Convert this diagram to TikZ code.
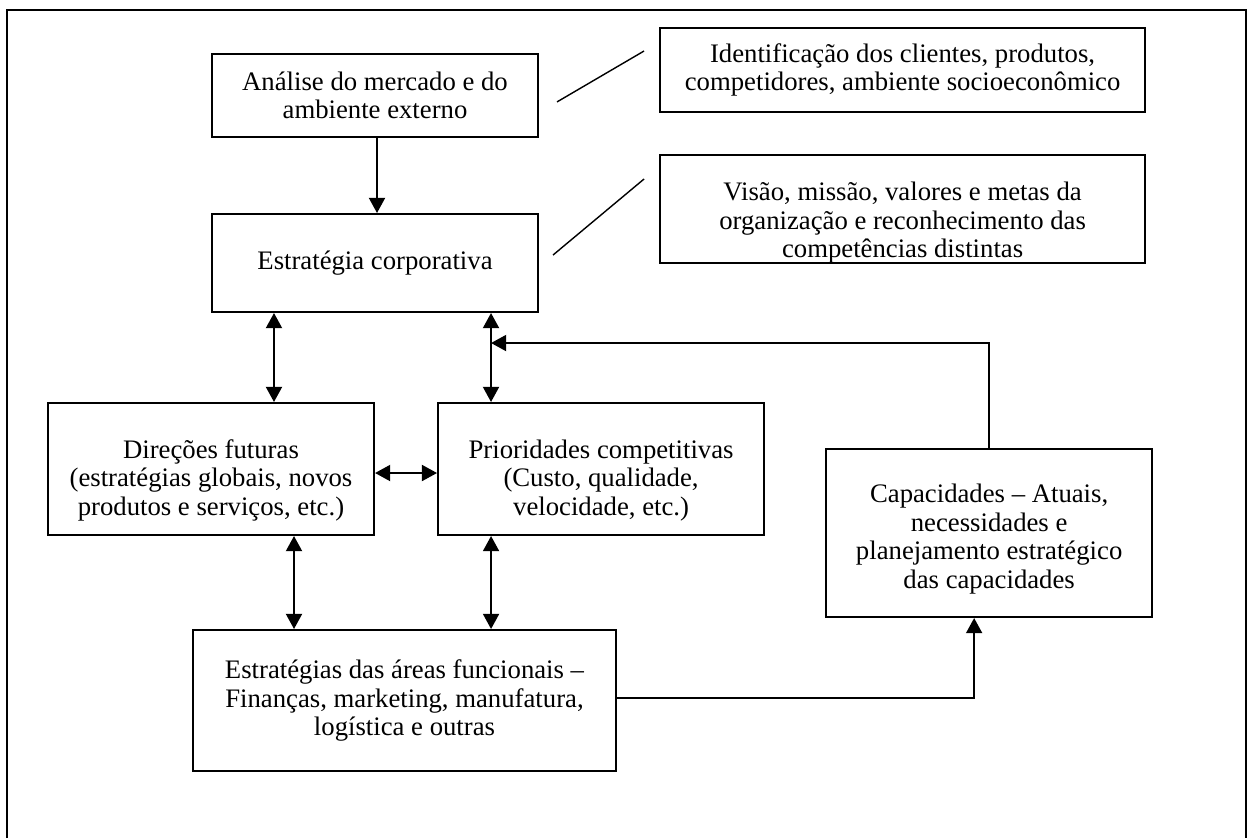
\documentclass[tikz,border=0pt]{standalone}
\usepackage{fontspec}
\setmainfont{Liberation Serif}
\usepackage{tikz}
\usetikzlibrary{positioning,arrows.meta,calc}
\newcommand{\desce}[1]{\rule{0pt}{#1}}

\begin{document}
\begin{tikzpicture}[
		x=0.025cm, y=-0.025cm,
		>={Triangle[length=0.38cm, width=0.4cm]},
		every text node part/.style={align=center},
		every node/.style={font=\fontsize{19}{20.3}\selectfont, inner sep=0pt},
		bloco/.style={draw, line width=1.4pt, minimum width=8.15cm},
		largo/.style={bloco, minimum width=12.125cm},
		liga/.style={line width=1.5pt},
		traco/.style={line width=1pt}
	]
	\useasboundingbox (0,0) rectangle (1253,838);
	\draw[line width=1.5pt] (7,838) -- (7,10) -- (1246,10) -- (1246,838);
	
	\node(analise)[bloco, minimum height=2.075cm] at (375,95.5) {An\'alise do mercado e do\\ambiente externo};
	\node(estrategia)[bloco, minimum height=2.45cm, below=1.875cm of analise] {Estrat\'egia corporativa};
	\node(ident)[largo, minimum height=2.1cm, right=3cm of analise, yshift=0.6375cm] {Identifica\c{c}\~ao dos clientes, produtos,\\competidores, ambiente socioecon\^omico};
	\node(visao)[largo, minimum height=2.7cm, right=3cm of estrategia, yshift=1.35cm] {\desce{1.15cm}Vis\~ao, miss\~ao, valores e metas da\\organiza\c{c}\~ao e reconhecimento das\\compet\^encias distintas};
	
	\node(direcoes)[bloco, minimum height=3.3cm] at (211,469) {\desce{1.02cm}Dire\c{c}\~oes futuras\\(estrat\'egias globais, novos\\produtos e servi\c{c}os, etc.)};
	\node(prioridades)[bloco, minimum height=3.3cm, right=1.55cm of direcoes] {\desce{1.02cm}Prioridades competitivas\\(Custo, qualidade,\\velocidade, etc.)};
	\node(capacidades)[bloco, minimum height=4.2cm, right=1.5cm of prioridades, yshift=-1.6cm] {\desce{0.77cm}Capacidades -- Atuais,\\necessidades e\\planejamento estrat\'egico\\das capacidades};
	\node(areas)[bloco, minimum width=10.575cm, minimum height=3.525cm] at (404.5,700.5) {Estrat\'egias das \'areas funcionais --\\Finan\c{c}as, marketing, manufatura,\\log\'istica e outras};
	
	\coordinate(juncao) at ([xshift=-1.2cm, yshift=-0.75cm]estrategia.south east);
	
	\draw[->, liga] ([xshift=0.05cm]analise.south) -- ([xshift=0.05cm]estrategia.north);
	\draw[<->, liga] ([xshift=1.575cm]estrategia.south west) -- ([xshift=1.575cm]estrategia.south west |- direcoes.north);
	\draw[<->, liga] ([xshift=-1.2cm]estrategia.south east) -- ([xshift=-1.2cm]estrategia.south east |- prioridades.north);
	\draw[<->, liga] ([yshift=-0.1cm]direcoes.east) -- ([yshift=-0.1cm]prioridades.west);
	\draw[<->, liga] ([xshift=-2.025cm]direcoes.south east) -- ([xshift=-2.025cm]direcoes.south east |- areas.north);
	\draw[<->, liga] ([xshift=1.35cm]prioridades.south west) -- ([xshift=1.35cm]prioridades.south west |- areas.north);
	\draw[->, liga] ([yshift=0.06cm]areas.east) -| ([xshift=-0.375cm]capacidades.south);
	\draw[->, liga] (capacidades.north) |- (juncao);
	
	\draw[traco] ([xshift=0.45cm, yshift=-0.16cm]analise.east) -- ([xshift=-0.375cm, yshift=0.475cm]ident.west);
	\draw[traco] ([xshift=0.35cm, yshift=0.2cm]estrategia.east) -- ([xshift=-0.375cm, yshift=0.75cm]visao.west);
\end{tikzpicture}
\end{document}
